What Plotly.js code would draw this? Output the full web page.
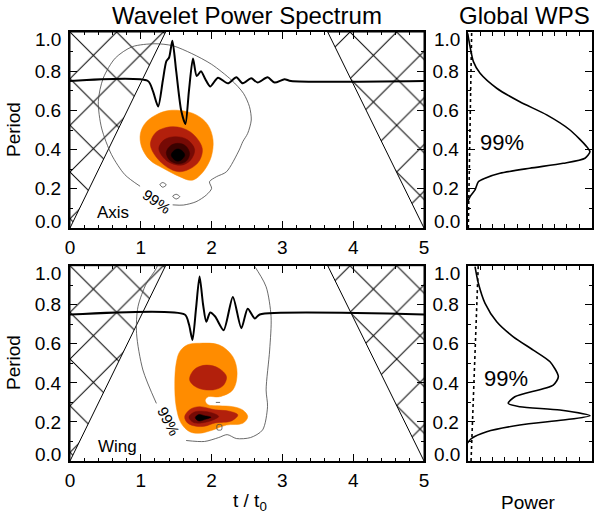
<!DOCTYPE html>
<html>
<head>
<meta charset="utf-8">
<script src="https://cdn.plot.ly/plotly-3.0.1.min.js"></script>
<style>
  html, body { margin: 0; padding: 0; background: #fff; }
  #plot { width: 600px; height: 516px; }
</style>
</head>
<body>
<div id="plot"></div>
<script>
// ---- data (t / t0 , period) ----
let cone_left_t = [0, 1.35, 0, 0];
let cone_left_p = [0, 1, 1, 0];
let cone_right_t = [5, 3.64, 5, 5];
let cone_right_p = [0, 1, 1, 0];

// top panel (Axis)
let axis_sig_t = [0, 1.10, 1.17, 1.245, 1.31, 1.36, 1.40, 1.446, 1.50, 1.57, 1.63, 1.68, 1.737, 1.79, 1.85, 1.91, 1.98, 2.09, 2.23, 2.35, 2.44, 2.56, 2.65, 2.79, 2.89, 3.03, 3.12, 5];
let axis_sig_p = [0.75, 0.75, 0.70, 0.62, 0.75, 0.85, 0.87, 0.955, 0.80, 0.60, 0.53, 0.70, 0.865, 0.775, 0.80, 0.76, 0.722, 0.767, 0.738, 0.769, 0.738, 0.764, 0.742, 0.769, 0.742, 0.759, 0.75, 0.75];

let axis_sig99_t = [1.45, 1.60, 1.78, 1.925, 2.0, 1.97, 2.07, 2.21, 2.39, 2.44, 2.51, 2.56, 2.535, 2.45, 2.28, 2.0, 1.72, 1.45, 1.20, 0.88, 0.64, 0.47, 0.40, 0.446, 0.587, 0.775, 0.99];
let axis_sig99_p = [0.118, 0.117, 0.134, 0.168, 0.202, 0.236, 0.262, 0.287, 0.398, 0.44, 0.483, 0.551, 0.619, 0.687, 0.755, 0.835, 0.89, 0.93, 0.94, 0.925, 0.867, 0.765, 0.646, 0.51, 0.374, 0.272, 0.213];
let axis_blip1_t = [1.27, 1.31, 1.36, 1.31, 1.27];
let axis_blip1_p = [0.222, 0.232, 0.220, 0.208, 0.222];
let axis_blip2_t = [1.45, 1.50, 1.55, 1.50, 1.45];
let axis_blip2_p = [0.162, 0.172, 0.160, 0.148, 0.162];

let axis_orange_t = [1.08, 1.315, 1.55, 1.784, 1.948, 2.02, 1.995, 1.90, 1.784, 1.70, 1.549, 1.315, 1.127, 1.01, 0.995, 1.08];
let axis_orange_p = [0.542, 0.593, 0.600, 0.577, 0.526, 0.449, 0.364, 0.296, 0.253, 0.243, 0.262, 0.305, 0.347, 0.415, 0.483, 0.542];
let axis_red_t = [1.136, 1.22, 1.455, 1.70, 1.868, 1.80, 1.549, 1.30, 1.136];
let axis_red_p = [0.423, 0.49, 0.517, 0.49, 0.406, 0.33, 0.287, 0.33, 0.423];
let axis_maroon_t = [1.255, 1.33, 1.49, 1.66, 1.76, 1.70, 1.56, 1.36, 1.255];
let axis_maroon_p = [0.405, 0.45, 0.466, 0.45, 0.40, 0.345, 0.32, 0.345, 0.405];
let axis_dark_t = [1.36, 1.42, 1.52, 1.63, 1.69, 1.64, 1.53, 1.41, 1.36];
let axis_dark_p = [0.385, 0.42, 0.432, 0.42, 0.38, 0.34, 0.328, 0.345, 0.385];
let axis_core_t = [1.43, 1.47, 1.525, 1.58, 1.62, 1.58, 1.525, 1.47, 1.43];
let axis_core_p = [0.372, 0.395, 0.403, 0.395, 0.372, 0.35, 0.341, 0.35, 0.372];

// bottom panel (Wing)
let wing_sig_t = [0, 1.62, 1.68, 1.73, 1.78, 1.83, 1.88, 1.925, 1.98, 2.05, 2.17, 2.30, 2.42, 2.51, 2.61, 2.68, 5];
let wing_sig_p = [0.75, 0.75, 0.70, 0.62, 0.78, 0.945, 0.80, 0.713, 0.76, 0.74, 0.67, 0.84, 0.68, 0.78, 0.73, 0.75, 0.75];

let wing_sig99_t = [1.28, 1.22, 1.08, 0.96, 0.94, 1.03, 1.22, null, 1.64, 1.90, 2.10, 2.22, 2.35, 2.55, 2.72, 2.79, 2.77, 2.82, 2.84, 2.77, 2.62, 2.50];
let wing_sig99_p = [1.05, 0.987, 0.91, 0.79, 0.654, 0.466, 0.295, null, 0.105, 0.10, 0.12, 0.135, 0.115, 0.12, 0.159, 0.278, 0.364, 0.568, 0.739, 0.892, 0.99, 1.05];
let wing_dash_t = [2.06, 2.12];
let wing_dash_p = [0.30, 0.30];
let wing_box_t = [2.08, 2.14, 2.14, 2.08, 2.08];
let wing_box_p = [0.16, 0.16, 0.185, 0.185, 0.16];

let wing_orange_t = [1.50, 1.55, 1.66, 1.83, 2.11, 2.30, 2.36, 2.30, 2.11, 1.95, 1.91, 1.95, 2.10, 2.30, 2.44, 2.51, 2.44, 2.21, 2.02, 1.83, 1.69, 1.57, 1.50, 1.48, 1.50];
let wing_orange_p = [0.500, 0.560, 0.595, 0.603, 0.594, 0.534, 0.449, 0.364, 0.329, 0.329, 0.31, 0.288, 0.283, 0.278, 0.261, 0.227, 0.193, 0.184, 0.159, 0.142, 0.150, 0.193, 0.278, 0.398, 0.500];
let wing_red_hi_t = [1.69, 1.76, 1.925, 2.10, 2.21, 2.16, 2.02, 1.80, 1.69];
let wing_red_hi_p = [0.415, 0.47, 0.491, 0.475, 0.432, 0.385, 0.364, 0.375, 0.415];
let wing_red_lo_t = [1.62, 1.70, 1.83, 2.05, 2.25, 2.37, 2.28, 2.05, 1.90, 1.78, 1.66, 1.62];
let wing_red_lo_p = [0.227, 0.265, 0.278, 0.262, 0.255, 0.236, 0.205, 0.195, 0.178, 0.178, 0.195, 0.227];
let wing_maroon_t = [1.68, 1.75, 1.86, 2.02, 2.10, 2.02, 1.86, 1.74, 1.68];
let wing_maroon_p = [0.225, 0.25, 0.255, 0.245, 0.228, 0.21, 0.195, 0.198, 0.225];
let wing_core_t = [1.77, 1.82, 1.90, 1.99, 1.90, 1.82, 1.77];
let wing_core_p = [0.222, 0.238, 0.232, 0.224, 0.212, 0.205, 0.222];

// global wavelet power spectra (normalised power, period)
let gws_axis_pow = [0, 0.019, 0.046, 0.10, 0.234, 0.42, 0.637, 0.825, 0.96, 0.986, 0.946, 0.77, 0.50, 0.26, 0.14, 0.086, 0.059, 0.019, -0.01];
let gws_axis_per = [0.993, 0.925, 0.849, 0.789, 0.713, 0.644, 0.577, 0.50, 0.415, 0.389, 0.356, 0.33, 0.305, 0.279, 0.254, 0.236, 0.194, 0.16, 0.115];
let sig_axis_pow = [0.005, 0.032];
let sig_axis_per = [0, 1];

let gws_wing_pow = [0.059, 0.086, 0.14, 0.234, 0.368, 0.529, 0.664, 0.731, 0.69, 0.38, 0.327, 0.42, 0.744, 0.986, 0.77, 0.42, 0.153, 0.032, -0.01];
let gws_wing_per = [0.995, 0.91, 0.807, 0.713, 0.636, 0.568, 0.508, 0.432, 0.389, 0.329, 0.295, 0.278, 0.261, 0.232, 0.21, 0.184, 0.15, 0.116, 0.085];
let sig_wing_pow = [0.027, 0.085];
let sig_wing_per = [0, 1];

let period_ticks = [0.2, 0.4, 0.6, 0.8];
let period_labels = ["0.2", "0.4", "0.6", "0.8"];

// ---- helpers ----
let font_family = "Liberation Sans, Arial, Helvetica, sans-serif";
let W = 600, H = 516;
function px(x) { return x / W; }
function py(y) { return 1 - y / H; }

function hatch(t, p, xa, ya) {
  return {
    x: t, y: p, xaxis: xa, yaxis: ya, mode: "lines", fill: "toself",
    fillcolor: "rgba(0,0,0,0)",
    fillpattern: { shape: "x", size: 33, solidity: 0.06, fgcolor: "#000", fgopacity: 1, bgcolor: "rgba(0,0,0,0)", fillmode: "overlay" },
    line: { color: "#000", width: 1 }, hoverinfo: "skip", showlegend: false,
  };
}
function blob(t, p, color, xa, ya) {
  return {
    x: t, y: p, xaxis: xa, yaxis: ya, mode: "lines", fill: "toself",
    fillcolor: color, line: { color: color, width: 0.5, shape: "spline", smoothing: 1 },
    hoverinfo: "skip", showlegend: false,
  };
}
function thin(t, p, xa, ya) {
  return {
    x: t, y: p, xaxis: xa, yaxis: ya, mode: "lines", connectgaps: false,
    line: { color: "#444", width: 0.8, shape: "spline", smoothing: 0.8 },
    hoverinfo: "skip", showlegend: false,
  };
}
function curve(t, p, xa, ya, w, dash) {
  return {
    x: t, y: p, xaxis: xa, yaxis: ya, mode: "lines",
    line: { color: "#000", width: w, shape: dash ? "linear" : "spline", smoothing: 0.7, dash: dash || "solid" },
    hoverinfo: "skip", showlegend: false,
  };
}

let orange = "#FF8C00", red = "#B2200C", maroon = "#760A05", dark = "#3A0200", black = "#000000";

let data = [
  hatch(cone_left_t, cone_left_p, "x", "y"),
  hatch(cone_right_t, cone_right_p, "x", "y"),
  blob(axis_orange_t, axis_orange_p, orange, "x", "y"),
  blob(axis_red_t, axis_red_p, red, "x", "y"),
  blob(axis_maroon_t, axis_maroon_p, maroon, "x", "y"),
  blob(axis_dark_t, axis_dark_p, dark, "x", "y"),
  blob(axis_core_t, axis_core_p, black, "x", "y"),
  thin(axis_sig99_t, axis_sig99_p, "x", "y"),
  thin(axis_blip1_t, axis_blip1_p, "x", "y"),
  thin(axis_blip2_t, axis_blip2_p, "x", "y"),
  curve(axis_sig_t, axis_sig_p, "x", "y", 2),

  curve(gws_axis_pow, gws_axis_per, "x2", "y2", 1.6),
  curve(sig_axis_pow, sig_axis_per, "x2", "y2", 1.6, "dot"),

  hatch(cone_left_t, cone_left_p, "x3", "y3"),
  hatch(cone_right_t, cone_right_p, "x3", "y3"),
  blob(wing_orange_t, wing_orange_p, orange, "x3", "y3"),
  blob(wing_red_hi_t, wing_red_hi_p, red, "x3", "y3"),
  blob(wing_red_lo_t, wing_red_lo_p, red, "x3", "y3"),
  blob(wing_maroon_t, wing_maroon_p, maroon, "x3", "y3"),
  blob(wing_core_t, wing_core_p, black, "x3", "y3"),
  thin(wing_sig99_t, wing_sig99_p, "x3", "y3"),
  thin(wing_dash_t, wing_dash_p, "x3", "y3"),
  thin(wing_box_t, wing_box_p, "x3", "y3"),
  curve(wing_sig_t, wing_sig_p, "x3", "y3", 2),

  curve(gws_wing_pow, gws_wing_per, "x4", "y4", 1.6),
  curve(sig_wing_pow, sig_wing_per, "x4", "y4", 1.6, "dot"),
];

let tick_font = { family: font_family, size: 19, color: "#000" };
let frame = {
  showline: true, linecolor: "#000", linewidth: 2, mirror: "ticks",
  showgrid: false, zeroline: false, ticks: "inside", tickcolor: "#000",
  tickwidth: 1, tickfont: tick_font, fixedrange: true,
};

function t_axis(domain, anchor) {
  return Object.assign({}, frame, {
    domain: domain, anchor: anchor, range: [0, 5], tickmode: "linear", tick0: 0, dtick: 1,
    ticklen: 7, minor: { tickmode: "linear", tick0: 0, dtick: 0.2, ticklen: 3, ticks: "inside", tickcolor: "#000" },
    ticklabelstandoff: 1,
  });
}
function p_axis(domain, anchor) {
  return Object.assign({}, frame, {
    domain: domain, anchor: anchor, range: [0, 1], tickmode: "array",
    tickvals: period_ticks, ticktext: period_labels,
    ticklen: 7, minor: { tickmode: "linear", tick0: 0, dtick: 0.1, ticklen: 3, ticks: "inside", tickcolor: "#000" },
    ticklabelstandoff: 3,
  });
}
function pow_axis(domain, anchor) {
  return Object.assign({}, frame, {
    domain: domain, anchor: anchor, range: [0, 1], tickmode: "linear", tick0: 0, dtick: 0.1,
    ticklen: 4, showticklabels: false,
  });
}

let left_dom = [px(70), px(424)];
let right_dom = [px(467.7), px(591.7)];
let top_dom = [py(228), py(32)];
let bot_dom = [py(461), py(265.7)];

function label(text, x, y, size, angle, extra) {
  return Object.assign({
    text: text, x: px(x), y: py(y), xref: "paper", yref: "paper",
    showarrow: false, xanchor: "center", yanchor: "middle", textangle: angle || 0,
    font: { family: font_family, size: size, color: "#000" },
  }, extra || {});
}

let annotations = [
  label("Wavelet Power Spectrum", 247, 15, 24),
  label("Global WPS", 524, 15, 24),
  label("Period", 13, 130, 19, -90),
  label("Period", 13, 363, 19, -90),
  label("t / t<sub>0</sub>", 250, 502, 19),
  label("Power", 528, 502, 19),
  label("Axis", 113, 212, 17),
  label("Wing", 117, 446, 17),
  label("99%", 157, 201, 15, 35),
  label("99%", 169, 421, 15, 62),
  label("99%", 502, 142, 22),
  label("99%", 506, 378, 22),
  // end labels of the period axes sit just inside the frame
  label("1.0", 63, 39, 19, 0, { xanchor: "right" }),
  label("0.0", 63, 221, 19, 0, { xanchor: "right" }),
  label("1.0", 63, 273, 19, 0, { xanchor: "right" }),
  label("0.0", 63, 454, 19, 0, { xanchor: "right" }),
  label("1.0", 462, 39, 19, 0, { xanchor: "right" }),
  label("0.0", 462, 221, 19, 0, { xanchor: "right" }),
  label("1.0", 462, 273, 19, 0, { xanchor: "right" }),
  label("0.0", 462, 454, 19, 0, { xanchor: "right" }),
];

let layout = {
  width: W, height: H,
  margin: { l: 0, r: 0, t: 0, b: 0 },
  paper_bgcolor: "#fff", plot_bgcolor: "#fff",
  showlegend: false,
  font: { family: font_family, color: "#000" },
  xaxis: t_axis(left_dom, "y"),
  yaxis: p_axis(top_dom, "x"),
  xaxis2: pow_axis(right_dom, "y2"),
  yaxis2: p_axis(top_dom, "x2"),
  xaxis3: t_axis(left_dom, "y3"),
  yaxis3: p_axis(bot_dom, "x3"),
  xaxis4: pow_axis(right_dom, "y4"),
  yaxis4: p_axis(bot_dom, "x4"),
  annotations: annotations,
};

Plotly.newPlot("plot", data, layout, { displayModeBar: false, staticPlot: true });
</script>
</body>
</html>
